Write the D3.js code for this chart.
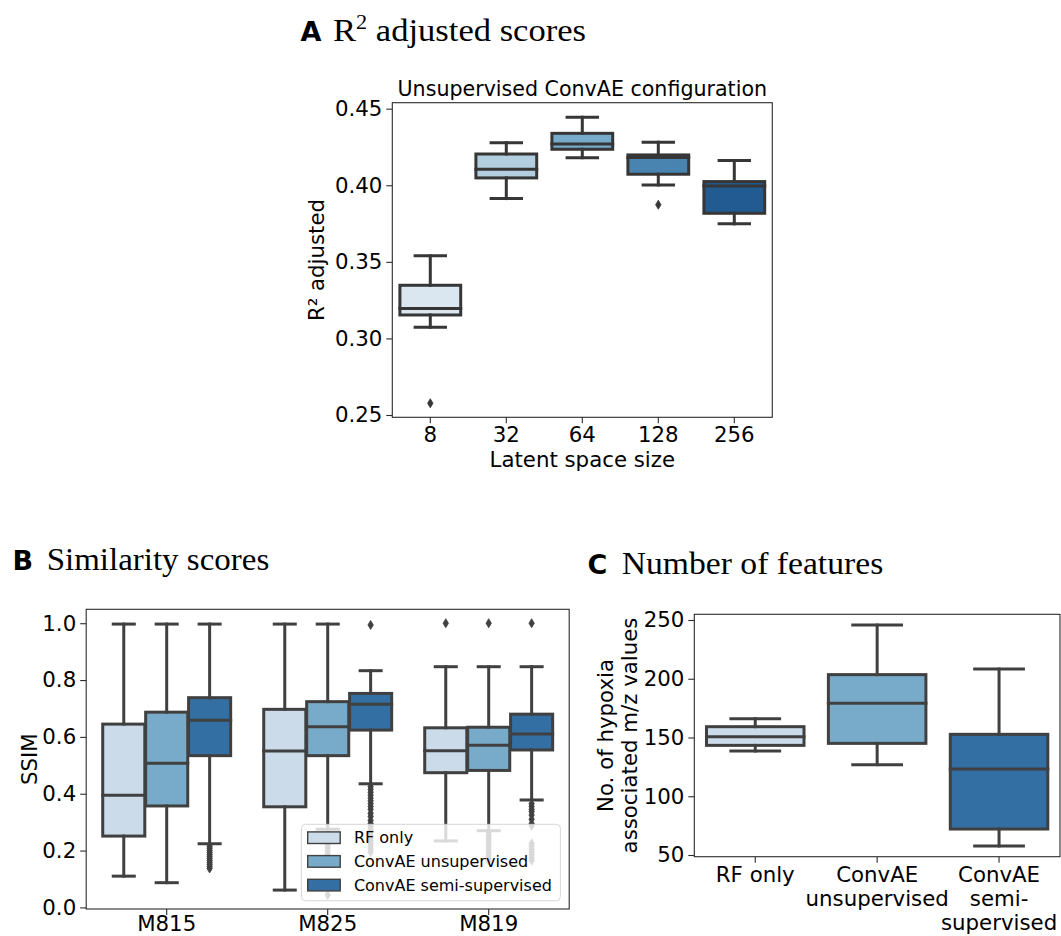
<!DOCTYPE html>
<html>
<head>
<meta charset="utf-8">
<script src="https://cdn.jsdelivr.net/npm/d3@7"></script>
<style>
  body { margin: 0; background: #fff; }
  svg { display: block; }
</style>
</head>
<body>
<svg id="fig" width="1061" height="936" font-family="DejaVu Sans"></svg>
<script>
// ---------- Panel A: R² adjusted by latent space size ----------
const latentSizes = ["8", "32", "64", "128", "256"];
// each box: [lower whisker, Q1, median, Q3, upper whisker]
const r2Boxes = [
  [0.3073, 0.3153, 0.3195, 0.3347, 0.3539],
  [0.3913, 0.4048, 0.4104, 0.4204, 0.4278],
  [0.4180, 0.4235, 0.4270, 0.4339, 0.4444],
  [0.4002, 0.4072, 0.4182, 0.4198, 0.4281],
  [0.3748, 0.3817, 0.3995, 0.4024, 0.4161]
];
const r2Outliers = [[0.2577], [], [], [0.3873], []];
const r2Ticks = [0.25, 0.30, 0.35, 0.40, 0.45];

// ---------- Panel B: SSIM per sample and method ----------
const samples = ["M815", "M825", "M819"];
const methods = ["RF only", "ConvAE unsupervised", "ConvAE semi-supervised"];
const ssimBoxes = [
  [[0.110, 0.251, 0.395, 0.645, 0.997], [0.087, 0.357, 0.507, 0.687, 0.997], [0.224, 0.534, 0.659, 0.738, 0.997]],
  [[0.061, 0.354, 0.550, 0.697, 0.997], [0.275, 0.534, 0.636, 0.724, 0.997], [0.435, 0.624, 0.715, 0.753, 0.833]],
  [[0.234, 0.474, 0.551, 0.632, 0.847], [0.270, 0.482, 0.571, 0.634, 0.847], [0.378, 0.554, 0.610, 0.680, 0.847]]
];
const ssimOutliers = [
  [[], [], [0.215, 0.208, 0.200, 0.193, 0.186, 0.179, 0.172, 0.165, 0.158, 0.151, 0.144, 0.137]],
  [[], [0.262, 0.250, 0.240, 0.230, 0.220, 0.210, 0.200, 0.190, 0.180, 0.170, 0.160, 0.044],
       [0.994, 0.425, 0.415, 0.405, 0.395, 0.385, 0.375, 0.365, 0.355, 0.345, 0.331, 0.320, 0.306, 0.295,
        0.285, 0.275, 0.265, 0.255, 0.245, 0.235, 0.225, 0.215, 0.205, 0.195]],
  [[1.0], [1.0, 0.262, 0.252, 0.242, 0.232, 0.222, 0.212, 0.202, 0.192, 0.182, 0.172, 0.165],
          [1.0, 0.365, 0.355, 0.345, 0.337, 0.325, 0.310, 0.295, 0.287, 0.225, 0.215, 0.205, 0.195, 0.185, 0.175, 0.165]]
];
const ssimTicks = [0.0, 0.2, 0.4, 0.6, 0.8, 1.0];

// ---------- Panel C: number of hypoxia-associated m/z values ----------
const featureMethods = ["RF only", "ConvAE unsupervised", "ConvAE semi-supervised"];
const featureTickLabels = [["RF only"], ["ConvAE", "unsupervised"], ["ConvAE", "semi-", "supervised"]];
const featureBoxes = [
  [138.5, 143.3, 150.7, 159.2, 166.0],
  [126.9, 145.0, 179.1, 203.5, 245.7],
  [57.7, 72.1, 123.2, 152.7, 208.3]
];
const featureTicks = [50, 100, 150, 200, 250];

// ---------- styling ----------
const blues5 = ["#d6e6f4", "#abd0e6", "#6aaed6", "#3787c0", "#105ba4"];
const blues3 = ["#c6dbef", "#6baed6", "#2171b5"];
const desat = c => { const h = d3.hsl(c); h.s *= 0.75; return h.formatHex(); };
const fills5 = blues5.map(desat);
const fills3 = blues3.map(desat);
const grayA = "#363636";
const grayB = "#404040";
const tickFont = 21.3;
const lineW = 3;

const svg = d3.select("#fig");
svg.append("rect").attr("width", 1061).attr("height", 936).attr("fill", "#fff");

function boxGlyph(g, stat, cx, w, y, fill, gray) {
  const [lo, q1, med, q3, hi] = stat;
  g.append("rect")
    .attr("x", cx - w / 2).attr("y", y(q3))
    .attr("width", w).attr("height", y(q1) - y(q3))
    .attr("fill", fill).attr("stroke", gray).attr("stroke-width", lineW);
  const seg = (x1, y1, x2, y2) => g.append("line")
    .attr("x1", x1).attr("y1", y1).attr("x2", x2).attr("y2", y2)
    .attr("stroke", gray).attr("stroke-width", lineW).attr("stroke-linecap", "square");
  seg(cx, y(q1), cx, y(lo));
  seg(cx, y(q3), cx, y(hi));
  seg(cx - w / 4, y(lo), cx + w / 4, y(lo));
  seg(cx - w / 4, y(hi), cx + w / 4, y(hi));
  seg(cx - w / 2, y(med), cx + w / 2, y(med));
}

function fliers(g, vals, cx, y, gray) {
  const h = 9, w = 5.4;
  g.selectAll(null).data(vals).enter().append("path")
    .attr("d", v => `M${cx},${y(v) - h / 2}L${cx + w / 2},${y(v)}L${cx},${y(v) + h / 2}L${cx - w / 2},${y(v)}Z`)
    .attr("fill", gray).attr("stroke", gray).attr("stroke-width", 0.8);
}

function axes(g, x, y, ticks, fmt, box, xPad) {
  const ya = g.append("g").attr("transform", `translate(${box.left},0)`)
    .call(d3.axisLeft(y).tickValues(ticks).tickFormat(fmt).tickSize(6).tickPadding(4));
  const xa = g.append("g").attr("transform", `translate(0,${box.bottom})`)
    .call(d3.axisBottom(x).tickSize(6).tickPadding(xPad));
  [ya, xa].forEach(a => {
    a.attr("font-family", "DejaVu Sans");
    a.select(".domain").remove();
    a.selectAll(".tick line").attr("stroke", "#2b2b2b").attr("stroke-width", 1.1);
    a.selectAll(".tick text").attr("font-size", tickFont).attr("fill", "#000");
  });
  return xa;
}

function frame(g, box) {
  g.append("rect")
    .attr("x", box.left).attr("y", box.top)
    .attr("width", box.right - box.left).attr("height", box.bottom - box.top)
    .attr("fill", "none").attr("stroke", "#2b2b2b").attr("stroke-width", 1.1);
}

function panelTitle(letter, words, lx, tx, baseline, textWidth, sup) {
  svg.append("text").attr("x", lx).attr("y", baseline)
    .attr("font-family", "DejaVu Sans").attr("font-weight", "bold").attr("font-size", 27)
    .text(letter);
  const t = svg.append("text").attr("x", tx).attr("y", baseline)
    .attr("font-family", "Liberation Serif").attr("font-size", 31);
  if (sup) {
    t.append("tspan").text(sup[0]);
    t.append("tspan").attr("font-size", 20).attr("dy", -12).text(sup[1]);
    t.append("tspan").attr("dy", 12).text(words);
  } else {
    t.text(words);
  }
  t.attr("textLength", textWidth).attr("lengthAdjust", "spacingAndGlyphs");
}

// ================= Panel A =================
{
  const box = { left: 392.3, right: 772.3, top: 102.7, bottom: 417.3 };
  const g = svg.append("g");
  const x = d3.scaleBand().domain(latentSizes).range([box.left, box.right]);
  const y = d3.scaleLinear().domain([0.2485, 0.4539]).range([box.bottom, box.top]);
  const bw = x.bandwidth() * 0.8;
  latentSizes.forEach((k, i) => {
    const cx = x(k) + x.bandwidth() / 2;
    boxGlyph(g, r2Boxes[i], cx, bw, y, fills5[i], grayA);
    fliers(g, r2Outliers[i], cx, y, grayA);
  });
  frame(g, box);
  axes(g, x, y, r2Ticks, d3.format(".2f"), box, 4);
  const mid = (box.left + box.right) / 2;
  g.append("text").attr("x", mid).attr("y", 466.5).attr("text-anchor", "middle")
    .attr("font-size", tickFont).text("Latent space size");
  g.append("text").attr("transform", `translate(323.5,${(box.top + box.bottom) / 2}) rotate(-90)`)
    .attr("text-anchor", "middle").attr("font-size", tickFont).text("R² adjusted");
  g.append("text").attr("x", mid).attr("y", 96).attr("text-anchor", "middle")
    .attr("font-size", 20.6).text("Unsupervised ConvAE configuration");
}
panelTitle("A", " adjusted scores", 300.5, 333, 41, 253, ["R", "2"]);

// ================= Panel B =================
{
  const box = { left: 86.2, right: 569.2, top: 609.3, bottom: 909 };
  const g = svg.append("g");
  const x = d3.scaleBand().domain(samples).range([box.left, box.right]);
  const y = d3.scaleLinear().domain([-0.0056, 1.049]).range([box.bottom, box.top]);
  const hue = d3.scaleBand().domain(methods).range([-0.4, 0.4].map(f => f * x.bandwidth()));
  const bw = hue.bandwidth() * 0.98;
  samples.forEach((s, i) => {
    const c0 = x(s) + x.bandwidth() / 2;
    methods.forEach((m, j) => {
      const cx = c0 + hue(m) + hue.bandwidth() / 2;
      boxGlyph(g, ssimBoxes[i][j], cx, bw, y, fills3[j], grayB);
      fliers(g, ssimOutliers[i][j], cx, y, grayB);
    });
  });
  frame(g, box);
  axes(g, x, y, ssimTicks, d3.format(".1f"), box, 1);
  g.append("text").attr("transform", `translate(37,${(box.top + box.bottom) / 2}) rotate(-90)`)
    .attr("text-anchor", "middle").attr("font-size", tickFont).text("SSIM");

  // legend (semi-transparent frame, lower right)
  const lw = 259, lh = 76.4;
  const lx = box.right - 8.8 - lw, ly = box.bottom - 8.3 - lh;
  const lg = g.append("g");
  lg.append("rect").attr("x", lx).attr("y", ly).attr("width", lw).attr("height", lh).attr("rx", 4)
    .attr("fill", "#fff").attr("fill-opacity", 0.8).attr("stroke", "#cccccc").attr("stroke-opacity", 0.8);
  methods.forEach((m, j) => {
    const cy = ly + 13.4 + j * 23.7;
    lg.append("rect").attr("x", lx + 6.3).attr("y", cy - 5.8).attr("width", 32.5).attr("height", 11.6)
      .attr("fill", fills3[j]).attr("stroke", grayB).attr("stroke-width", 1.4);
    lg.append("text").attr("x", lx + 52.5).attr("y", cy).attr("dy", "0.36em")
      .attr("font-size", 16).text(m);
  });
}
panelTitle("B", "Similarity scores", 12.5, 46.7, 570, 222.6);

// ================= Panel C =================
{
  const box = { left: 694.3, right: 1060, top: 614.3, bottom: 856.7 };
  const g = svg.append("g");
  const x = d3.scaleBand().domain(featureMethods).range([box.left, box.right]);
  const y = d3.scaleLinear().domain([48.55, 254.85]).range([box.bottom, box.top]);
  const bw = x.bandwidth() * 0.8;
  featureMethods.forEach((m, i) => {
    const cx = x(m) + x.bandwidth() / 2;
    boxGlyph(g, featureBoxes[i], cx, bw, y, fills3[i], grayB);
  });
  frame(g, box);
  const xa = axes(g, x, y, featureTicks, d3.format("d"), box, 4);
  xa.selectAll(".tick text").each(function (d, i) {
    const t = d3.select(this).text(null);
    featureTickLabels[i].forEach((line, k) => {
      t.append("tspan").attr("x", 0).attr("dy", k === 0 ? "0.71em" : "1.12em").text(line);
    });
  });
  g.append("text").attr("transform", `translate(0,${(box.top + box.bottom) / 2}) rotate(-90)`)
    .attr("text-anchor", "middle").attr("font-size", tickFont)
    .call(t => {
      t.append("tspan").attr("x", 0).attr("y", 613.3).text("No. of hypoxia");
      t.append("tspan").attr("x", 0).attr("y", 637.3).text("associated m/z values");
    });
}
panelTitle("C", "Number of features", 587.5, 621.7, 574, 261.6);
</script>
</body>
</html>
